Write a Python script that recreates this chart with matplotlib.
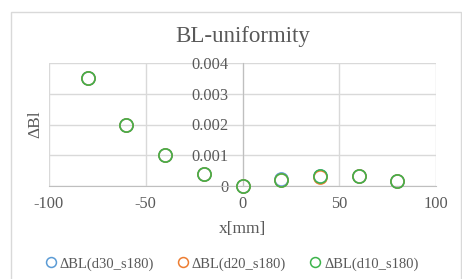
import matplotlib
matplotlib.use("Agg")
import matplotlib.pyplot as plt
from matplotlib.patches import Rectangle

plt.rcParams['font.family'] = ['Liberation Serif', 'DejaVu Serif']

# data
x_mm = [-80, -60, -40, -20, 0, 20, 40, 60, 80]
bl_d30 = [0.0035, 0.00198, 0.001, 0.00039, 0.0, 0.00022, 0.00031, 0.00031, 0.00016]
bl_d20 = [0.0035, 0.00198, 0.001, 0.00039, 0.0, 0.00021, 0.00030, 0.00031, 0.00016]
bl_d10 = [0.0035, 0.00198, 0.001, 0.00039, 0.0, 0.00021, 0.00032, 0.00031, 0.00016]
labels = ['ΔBL(d30_s180)', 'ΔBL(d20_s180)', 'ΔBL(d10_s180)']
colors = ['#5B9BD5', '#ED7D31', '#3CB44B']
x_ticks = [-100, -50, 0, 50, 100]
y_ticks = [0, 0.001, 0.002, 0.003, 0.004]

txt = '#595959'
grid = '#D9D9D9'

fig = plt.figure(figsize=(4.62, 2.79), dpi=100)
# chart frame
fig.patches.append(Rectangle((11/462, -0.01), 450/462, 1 - 12/279 + 0.01,
                             transform=fig.transFigure, fill=False,
                             edgecolor=grid, linewidth=1))
ax = fig.add_axes([49/462, 1 - 186/279, 387/462, 123/279])

for ys, c, lab in zip([bl_d30, bl_d20, bl_d10], colors, labels):
	ax.plot(x_mm, ys, linestyle='none', marker='o', markersize=9.5,
	        markerfacecolor='none', markeredgecolor=c, markeredgewidth=1.1,
	        label=lab, zorder=3, clip_on=False)

ax.set_xlim(-100, 100)
ax.set_ylim(0, 0.004)
ax.set_xticks(x_ticks)
ax.set_yticks(y_ticks)
ax.set_xticklabels([str(v) for v in x_ticks])
ax.set_yticklabels(['0', '0.001', '0.002', '0.003', '0.004'])

# excel style: y axis crosses at x=0
ax.spines['left'].set_position(('data', 0))
ax.spines['left'].set_color('#BFBFBF')
ax.spines['bottom'].set_color('#BFBFBF')
ax.spines['top'].set_visible(False)
ax.spines['right'].set_visible(False)
ax.grid(True, color=grid, linewidth=1)
ax.set_axisbelow(True)
ax.tick_params(length=0, labelsize=11.8, labelcolor=txt)
ax.tick_params(axis='x', pad=7)
ax.tick_params(axis='y', pad=10)

ax.set_title('BL-uniformity', fontsize=16.5, color=txt, pad=15)
ax.set_xlabel('x[mm]', fontsize=12.5, color=txt, labelpad=7)
ax.set_ylabel('ΔBl', fontsize=12.5, color=txt)
ax.yaxis.set_label_coords(-6/387, 0.5)

leg = fig.legend(loc='center', bbox_to_anchor=(0.5, 1 - 264/279), ncol=3,
                 frameon=False, fontsize=10.5, handletextpad=0.1,
                 columnspacing=1.5, markerscale=0.75, handlelength=1)
for t in leg.get_texts():
	t.set_color(txt)

fig.savefig('out.png', dpi=100)
